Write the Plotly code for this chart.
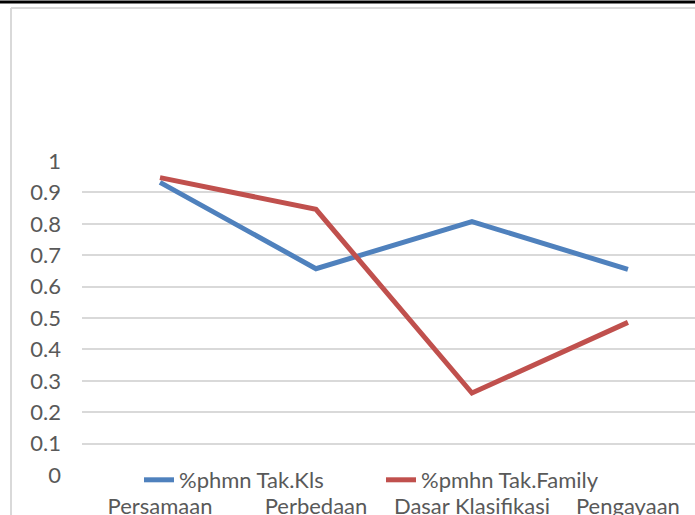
import plotly.graph_objects as go

categories = ["Persamaan", "Perbedaan", "Dasar Klasifikasi", "Pengayaan"]
kls_values = [0.932, 0.657, 0.807, 0.655]
family_values = [0.947, 0.846, 0.261, 0.486]
series_names = ["%phmn Tak.Kls", "%pmhn Tak.Family"]
y_ticks = [0, 0.1, 0.2, 0.3, 0.4, 0.5, 0.6, 0.7, 0.8, 0.9, 1]
y_tick_labels = ["0", "0.1", "0.2", "0.3", "0.4", "0.5", "0.6", "0.7", "0.8", "0.9", "1"]

FONT = "Lato, 'Liberation Sans', sans-serif"
GREY = "#595959"
FS = 22

fig = go.Figure()
fig.add_trace(go.Scatter(x=list(range(len(categories))), y=kls_values, mode="lines",
                         name=series_names[0], line=dict(color="#4F81BD", width=5)))
fig.add_trace(go.Scatter(x=list(range(len(categories))), y=family_values, mode="lines",
                         name=series_names[1], line=dict(color="#C0504D", width=5)))

W, H = 695, 515
L, R, T, B = 82, 0, 161, 40
ph = H - T - B

def py(pix):
    return (H - B - pix) / ph

def px(pix):
    return (pix - L) / (W - L - R)

fig.update_layout(
    width=W, height=H,
    margin=dict(l=L, r=R, t=T, b=B, pad=0, autoexpand=False),
    paper_bgcolor="white", plot_bgcolor="white",
    font=dict(family=FONT, size=FS, color=GREY),
    showlegend=True,
    legend=dict(orientation="h", x=px(139), xanchor="left", y=py(480), yanchor="middle",
                bgcolor="rgba(0,0,0,0)", font=dict(family=FONT, size=FS, color=GREY),
                entrywidth=197, entrywidthmode="pixels", itemwidth=30),
    xaxis=dict(range=[-0.5, 3.43], tickmode="array", tickvals=list(range(len(categories))),
               ticktext=categories, showgrid=False, zeroline=False, showline=False,
               ticks="", ticklabelstandoff=16, fixedrange=True, automargin=False),
    yaxis=dict(range=[0, 1], tickmode="array", tickvals=y_ticks, ticktext=y_tick_labels,
               showgrid=True, gridcolor="#D9D9D9", gridwidth=2, zeroline=False,
               showline=False, ticks="", ticklabelstandoff=20, automargin=False),
    shapes=[
        dict(type="line", xref="paper", yref="paper", x0=px(0), x1=px(W), y0=py(2), y1=py(2),
             line=dict(color="black", width=3)),
        dict(type="line", xref="paper", yref="paper", x0=px(11), x1=px(W), y0=py(8), y1=py(8),
             line=dict(color="#D9D9D9", width=2)),
        dict(type="line", xref="paper", yref="paper", x0=px(11), x1=px(11), y0=py(8), y1=py(H),
             line=dict(color="#D9D9D9", width=2)),
    ],
)

fig.write_html("out.html")
